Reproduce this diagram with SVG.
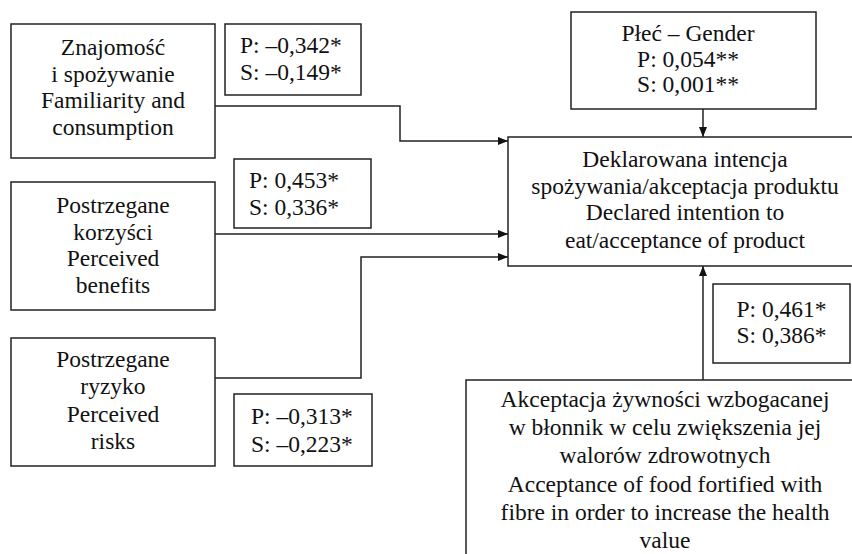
<svg xmlns="http://www.w3.org/2000/svg" width="852" height="554" viewBox="0 0 852 554">
<style>
.b{fill:#fff;stroke:#222;stroke-width:1.5}
text{font-family:'Liberation Serif','Times New Roman',serif;font-size:23.5px;fill:#111}
.c{text-anchor:middle}
.conn path{fill:none;stroke:#222;stroke-width:1.5}
</style>
<defs>
<marker id="ah" viewBox="0 0 10 10" refX="10" refY="5" markerWidth="10" markerHeight="10" markerUnits="userSpaceOnUse" orient="auto">
<path d="M0,1 L10,5 L0,9 Z" fill="#111"/>
</marker>
</defs>
<rect width="852" height="554" fill="#fff"/>
<g class="conn">
<path d="M215,106 H400 V141 H508" marker-end="url(#ah)"/>
<path d="M215,234 H508" marker-end="url(#ah)"/>
<path d="M215,378 H361 V257 H508" marker-end="url(#ah)"/>
<path d="M703,109 V137" marker-end="url(#ah)"/>
<path d="M703,380 V266" marker-end="url(#ah)"/>
</g>
<g id="familiarity">
<rect class="b" x="11" y="24" width="204" height="134"/>
<text class="c" x="113" y="55">Znajomość</text>
<text class="c" x="113" y="81.5">i spożywanie</text>
<text class="c" x="113" y="108">Familiarity and</text>
<text class="c" x="113" y="134.5">consumption</text>
</g>
<g id="lbl-familiarity">
<rect class="b" x="225" y="24" width="136" height="71"/>
<text x="240" y="53">P: –0,342*</text>
<text x="240" y="80">S: –0,149*</text>
</g>
<g id="benefits">
<rect class="b" x="11" y="182" width="204" height="128"/>
<text class="c" x="113" y="213">Postrzegane</text>
<text class="c" x="113" y="239.5">korzyści</text>
<text class="c" x="113" y="266">Perceived</text>
<text class="c" x="113" y="292.5">benefits</text>
</g>
<g id="lbl-benefits">
<rect class="b" x="234" y="159" width="137" height="69"/>
<text x="249" y="188">P: 0,453*</text>
<text x="249" y="215">S: 0,336*</text>
</g>
<g id="risks">
<rect class="b" x="11" y="338" width="204" height="128"/>
<text class="c" x="113" y="367">Postrzegane</text>
<text class="c" x="113" y="394">ryzyko</text>
<text class="c" x="113" y="421.5">Perceived</text>
<text class="c" x="113" y="449">risks</text>
</g>
<g id="lbl-risks">
<rect class="b" x="234" y="394" width="138" height="72"/>
<text x="251" y="424">P: –0,313*</text>
<text x="251" y="452">S: –0,223*</text>
</g>
<g id="gender">
<rect class="b" x="571" y="12" width="245" height="97"/>
<text class="c" x="688" y="41">Płeć – Gender</text>
<text class="c" x="688" y="67">P: 0,054**</text>
<text class="c" x="688" y="92">S: 0,001**</text>
</g>
<g id="intention">
<rect class="b" x="508" y="137" width="356" height="129"/>
<text class="c" x="685" y="167">Deklarowana intencja</text>
<text class="c" x="685" y="193.5">spożywania/akceptacja produktu</text>
<text class="c" x="685" y="220">Declared intention to</text>
<text class="c" x="685" y="247.5">eat/acceptance of product</text>
</g>
<g id="lbl-fibre">
<rect class="b" x="713" y="284" width="137" height="79"/>
<text class="c" x="781.5" y="316.5">P: 0,461*</text>
<text class="c" x="781.5" y="343">S: 0,386*</text>
</g>
<g id="fibre">
<rect class="b" x="466" y="380" width="398" height="190"/>
<text class="c" x="665" y="407">Akceptacja żywności wzbogacanej</text>
<text class="c" x="665" y="435">w błonnik w celu zwiększenia jej</text>
<text class="c" x="665" y="463">walorów zdrowotnych</text>
<text class="c" x="665" y="491.5">Acceptance of food fortified with</text>
<text class="c" x="665" y="520">fibre in order to increase the health</text>
<text class="c" x="665" y="548">value</text>
</g>
</svg>
